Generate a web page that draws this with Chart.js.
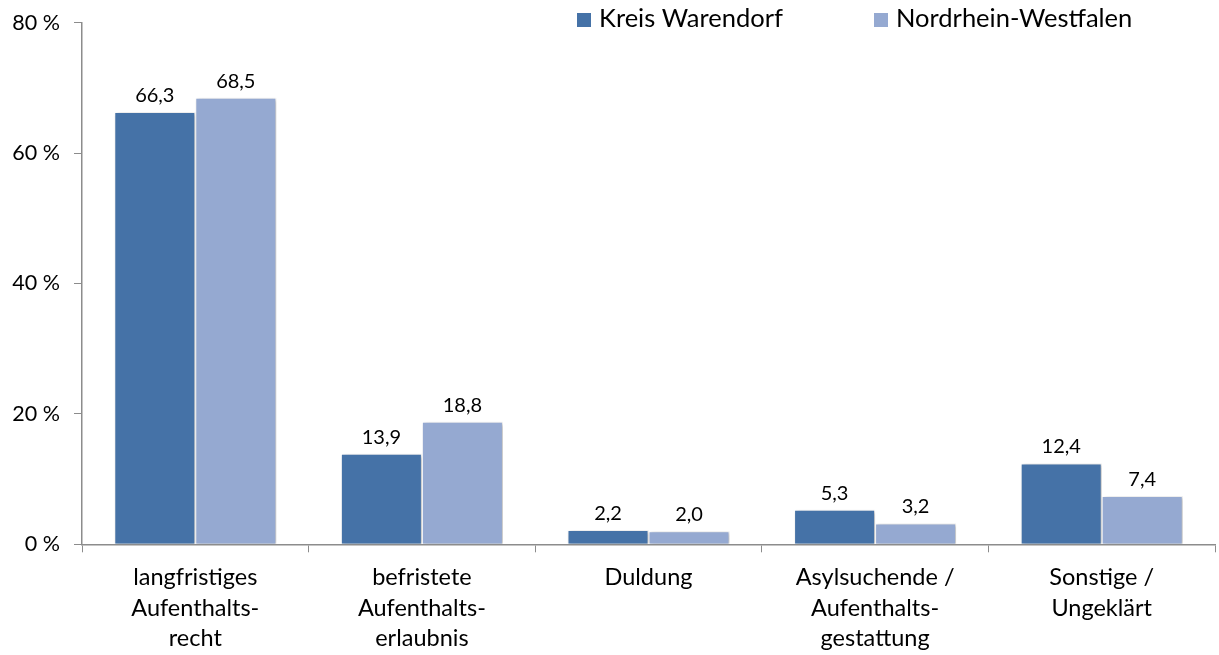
<!DOCTYPE html>
<html>
<head>
<meta charset="utf-8">
<script src="https://cdn.jsdelivr.net/npm/chart.js@4"></script>
<style>
  html, body { margin: 0; padding: 0; background: #fff; }
  #wrap { width: 1219px; height: 655px; position: relative; }
</style>
</head>
<body>
<div id="wrap"><canvas id="c" width="1219" height="655"></canvas></div>
<script>
const categories = [
  ["langfristiges", "Aufenthalts-", "recht"],
  ["befristete", "Aufenthalts-", "erlaubnis"],
  ["Duldung"],
  ["Asylsuchende /", "Aufenthalts-", "gestattung"],
  ["Sonstige /", "Ungeklärt"]
];
const seriesNames = ["Kreis Warendorf", "Nordrhein-Westfalen"];
const kreisWarendorf = [66.3, 13.9, 2.2, 5.3, 12.4];
const nrw = [68.5, 18.8, 2.0, 3.2, 7.4];
const yTicks = [0, 20, 40, 60, 80];

const FONT = "Lato, 'Open Sans', sans-serif";
const DARK = "#4572a7";
const LIGHT = "#95a9d1";
const AXIS = "#8c8c8c";

const fmt = v => v.toFixed(1).replace(".", ",");

const shadowPlugin = {
  id: "shadow",
  beforeDatasetsDraw(chart) {
    const ctx = chart.ctx;
    ctx.save();
    ctx.shadowColor = "rgba(0,0,0,0.28)";
    ctx.shadowBlur = 4;
    ctx.shadowOffsetX = 2;
    ctx.shadowOffsetY = 1;
  },
  afterDatasetsDraw(chart) {
    const ctx = chart.ctx;
    ctx.restore();
    ctx.save();
    ctx.font = "20px " + FONT;
    ctx.fillStyle = "#000";
    ctx.textAlign = "center";
    ctx.textBaseline = "alphabetic";
    chart.data.datasets.forEach((ds, i) => {
      chart.getDatasetMeta(i).data.forEach((bar, j) => {
        ctx.fillText(fmt(ds.data[j]), bar.x, bar.y - 10);
      });
    });
    ctx.restore();
  }
};

const legendPlugin = {
  id: "customLegend",
  afterDraw(chart) {
    const ctx = chart.ctx;
    ctx.save();
    ctx.font = "25.5px " + FONT;
    ctx.textBaseline = "middle";
    ctx.textAlign = "left";
    const pos = [577, 874];
    chart.data.datasets.forEach((ds, i) => {
      ctx.fillStyle = ds.backgroundColor;
      ctx.fillRect(pos[i], 13, 14, 14);
      ctx.fillStyle = "#000";
      ctx.fillText(ds.label, pos[i] + 22, 19);
    });
    ctx.restore();
  }
};

new Chart(document.getElementById("c"), {
  type: "bar",
  data: {
    labels: categories,
    datasets: [
      { label: seriesNames[0], data: kreisWarendorf, backgroundColor: DARK,
        borderColor: "#ffffff", borderWidth: 1, borderSkipped: "start" },
      { label: seriesNames[1], data: nrw, backgroundColor: LIGHT,
        borderColor: "#ffffff", borderWidth: 1, borderSkipped: "start" }
    ]
  },
  options: {
    responsive: false,
    animation: false,
    events: [],
    layout: { padding: { left: 0, right: 4, top: 22.7, bottom: 0 } },
    datasets: { bar: { categoryPercentage: 0.715, barPercentage: 1.0 } },
    plugins: { legend: { display: false }, tooltip: { enabled: false } },
    scales: {
      x: {
        offset: true,
        grid: { display: true, drawOnChartArea: false, offset: true, color: AXIS, tickLength: 8, tickWidth: 1 },
        border: { display: true, color: AXIS, width: 1.5 },
        ticks: { color: "#000", font: { family: FONT, size: 23.5, lineHeight: 1.3 }, padding: 10, maxRotation: 0, autoSkip: false },
        afterFit(scale) { scale.height = 110.7; scale.paddingLeft = 0; scale.paddingRight = 0; }
      },
      y: {
        min: 0, max: 80,
        afterBuildTicks(scale) { scale.ticks = yTicks.map(v => ({ value: v })); },
        grid: { display: true, drawOnChartArea: false, color: AXIS, tickLength: 8 },
        border: { display: true, color: AXIS, width: 1.5 },
        ticks: { color: "#000", font: { family: FONT, size: 21.5 }, padding: 14, callback: v => v + " %" },
        afterFit(scale) { scale.width = 82; scale.paddingTop = 0; scale.paddingBottom = 0; }
      }
    }
  },
  plugins: [shadowPlugin, legendPlugin]
});
</script>
</body>
</html>
